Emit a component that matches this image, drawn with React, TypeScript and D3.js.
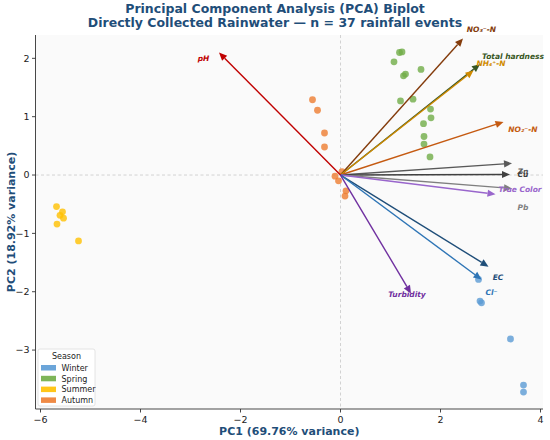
import React from 'react';
import * as d3 from 'd3';

// sample scores (PC1, PC2) by season
const winterPC1 = [2.76, 2.79, 2.82, 3.40, 3.66, 3.66];
const winterPC2 = [-1.79, -2.16, -2.19, -2.81, -3.60, -3.72];
const springPC1 = [1.18, 1.23, 1.07, 1.26, 1.30, 1.61, 1.20, 1.45, 1.80, 1.81, 1.66, 1.67, 1.67, 1.79];
const springPC2 = [2.10, 2.11, 1.94, 1.70, 1.73, 1.81, 1.27, 1.30, 1.13, 0.98, 0.88, 0.66, 0.53, 0.31];
const summerPC1 = [-5.68, -5.56, -5.61, -5.54, -5.67, -5.24];
const summerPC2 = [-0.54, -0.63, -0.69, -0.74, -0.84, -1.13];
const autumnPC1 = [-0.56, -0.46, -0.32, -0.32, 0.03, -0.11, -0.04, 0.11, 0.09];
const autumnPC2 = [1.29, 1.11, 0.72, 0.48, 0.06, -0.02, -0.10, -0.27, -0.36];

const seasons = ['Winter', 'Spring', 'Summer', 'Autumn'];
const seasonColors = ['#5b9bd5', '#70ad47', '#ffc000', '#ed7d31'];

// variable loadings (scaled) and label positions
const variables = ['NO₃⁻-N', 'Total hardness', 'NH₄⁺-N', 'NO₂⁻-N', 'Zn', 'Cu', 'Pb', 'True Color', 'EC', 'Cl⁻', 'Turbidity', 'pH'];
const loadPC1 = [2.45, 2.79, 2.66, 3.26, 3.43, 3.39, 3.43, 3.10, 2.96, 2.82, 1.41, -2.43];
const loadPC2 = [2.34, 1.90, 1.79, 0.91, 0.20, 0.01, -0.23, -0.33, -1.57, -1.79, -2.03, 2.10];
const labelPC1 = [2.82, 3.45, 3.01, 3.65, 3.65, 3.65, 3.65, 3.59, 3.15, 3.02, 1.33, -2.74];
const labelPC2 = [2.49, 2.04, 1.92, 0.78, 0.06, 0.01, -0.55, -0.24, -1.75, -2.01, -2.04, 2.00];
const varColors = ['#843c0c', '#375623', '#d08a00', '#c55a11', '#595959', '#404040', '#7f7f7f', '#9966cc', '#1f4e79', '#2e75b6', '#7030a0', '#c00000'];

const xTicks = [-6, -4, -2, 0, 2, 4];
const yTicks = [-3, -2, -1, 0, 1, 2];

const W = 550;
const H = 440;
const margin = { top: 35, right: 7, bottom: 31, left: 35.5 };

const App: React.FC = () => {
  const x = d3.scaleLinear().domain([-6.1, 4.05]).range([margin.left, W - margin.right]);
  const y = d3.scaleLinear().domain([-4.01, 2.4]).range([H - margin.bottom, margin.top]);

  const groups = [
    [winterPC1, winterPC2],
    [springPC1, springPC2],
    [summerPC1, summerPC2],
    [autumnPC1, autumnPC2],
  ];

  const font = 'DejaVu Sans, sans-serif';
  const navy = '#1f4e79';
  const x0 = x(0);
  const y0 = y(0);

  return (
    <svg width={W} height={H} style={{ position: 'absolute', left: 0, top: 0, fontFamily: font }}>
      <rect width={W} height={H} fill="#fff" />
      <rect x={margin.left} y={margin.top} width={W - margin.left - margin.right} height={H - margin.top - margin.bottom} fill="#fafafa" />

      {/* title */}
      <text x={275} y={13} textAnchor="middle" fontSize={12.5} fontWeight="bold" fill={navy}>Principal Component Analysis (PCA) Biplot</text>
      <text x={275} y={27} textAnchor="middle" fontSize={12.5} fontWeight="bold" fill={navy}>Directly Collected Rainwater — n = 37 rainfall events</text>

      {/* reference lines */}
      <line x1={x0} x2={x0} y1={margin.top} y2={H - margin.bottom} stroke="#c8c8c8" strokeDasharray="3,2.5" strokeWidth={0.8} />
      <line x1={margin.left} x2={W - margin.right} y1={y0} y2={y0} stroke="#c8c8c8" strokeDasharray="3,2.5" strokeWidth={0.8} />

      {/* points */}
      {groups.map((g, gi) => g[0].map((v, i) => (
        <circle key={`${gi}-${i}`} cx={x(v)} cy={y(g[1][i])} r={3.4} fill={seasonColors[gi]} opacity={0.8} />
      )))}

      {/* loading arrows */}
      {variables.map((name, i) => {
        const tx = x(loadPC1[i]);
        const ty = y(loadPC2[i]);
        const dx = tx - x0;
        const dy = ty - y0;
        const len = Math.sqrt(dx * dx + dy * dy);
        const ux = dx / len;
        const uy = dy / len;
        const hl = 8;
        const hw = 3.6;
        const bx = tx - ux * hl;
        const by = ty - uy * hl;
        const pts = [
          [tx, ty],
          [bx - uy * hw, by + ux * hw],
          [bx + uy * hw, by - ux * hw],
        ].map(p => p.join(',')).join(' ');
        return (
          <g key={name}>
            <line x1={x0} y1={y0} x2={bx} y2={by} stroke={varColors[i]} strokeWidth={1.4} />
            <polygon points={pts} fill={varColors[i]} />
          </g>
        );
      })}
      {variables.map((name, i) => (
        <text key={'l' + name} x={x(labelPC1[i])} y={y(labelPC2[i])} dy="0.35em" textAnchor="middle"
          fontSize={7.5} fontWeight="bold" fontStyle="italic" fill={varColors[i]}>{name}</text>
      ))}

      {/* axes */}
      <line x1={margin.left} x2={margin.left} y1={margin.top} y2={H - margin.bottom} stroke="#333" strokeWidth={0.9} />
      <line x1={margin.left} x2={W - margin.right} y1={H - margin.bottom} y2={H - margin.bottom} stroke="#333" strokeWidth={0.9} />
      {xTicks.map(t => (
        <g key={'x' + t}>
          <line x1={x(t)} x2={x(t)} y1={H - margin.bottom} y2={H - margin.bottom + 3.5} stroke="#333" strokeWidth={0.9} />
          <text x={x(t)} y={H - margin.bottom + 14} textAnchor="middle" fontSize={9.5} fill="#222">{t < 0 ? `−${-t}` : t}</text>
        </g>
      ))}
      {yTicks.map(t => (
        <g key={'y' + t}>
          <line x1={margin.left - 3.5} x2={margin.left} y1={y(t)} y2={y(t)} stroke="#333" strokeWidth={0.9} />
          <text x={margin.left - 6} y={y(t)} dy="0.35em" textAnchor="end" fontSize={9.5} fill="#222">{t < 0 ? `−${-t}` : t}</text>
        </g>
      ))}
      <text x={(margin.left + W - margin.right) / 2} y={435} textAnchor="middle" fontSize={11} fontWeight="bold" fill={navy}>PC1 (69.76% variance)</text>
      <text transform={`translate(15,${(margin.top + H - margin.bottom) / 2}) rotate(-90)`} textAnchor="middle" fontSize={11} fontWeight="bold" fill={navy}>PC2 (18.92% variance)</text>

      {/* legend */}
      <g transform="translate(38,349)">
        <rect width={57} height={57} rx={2} fill="#fff" fillOpacity={0.85} stroke="#ddd" strokeWidth={0.8} />
        <text x={28.5} y={9.5} textAnchor="middle" fontSize={8} fill="#222">Season</text>
        {seasons.map((s, i) => (
          <g key={s} transform={`translate(3,${16 + i * 10.8})`}>
            <rect width={15} height={5.5} fill={seasonColors[i]} opacity={0.9} />
            <text x={20.5} y={2.9} dy="0.35em" fontSize={8} fill="#222">{s}</text>
          </g>
        ))}
      </g>
    </svg>
  );
};

export default App;
